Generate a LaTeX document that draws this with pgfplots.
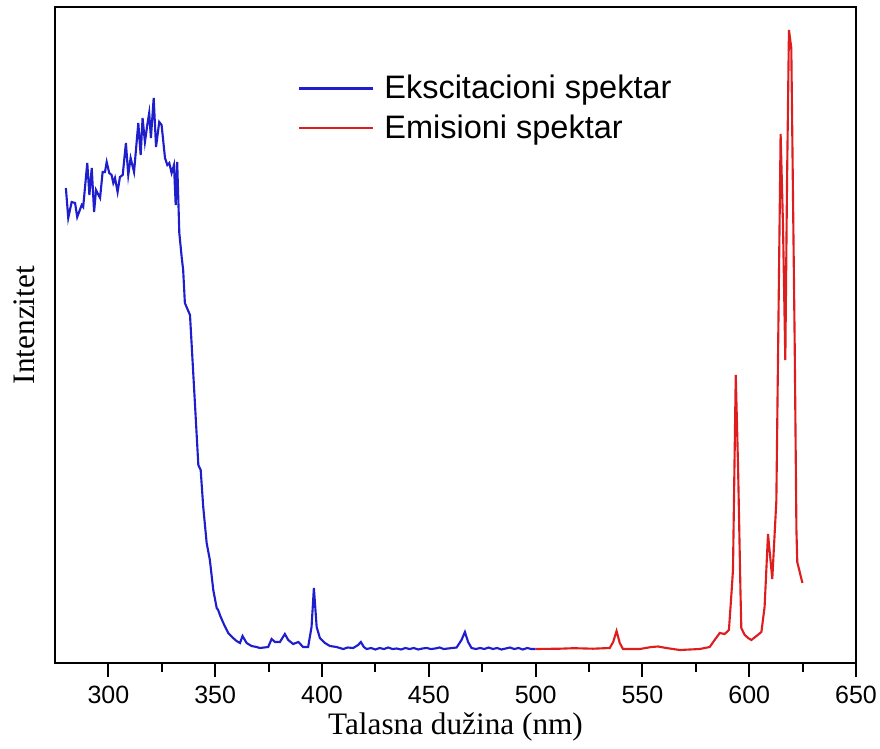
\documentclass[border=0pt]{standalone}
\usepackage{pgfplots}
\pgfplotsset{compat=1.18}
\usepackage{fontspec}
\setmainfont{Liberation Sans}
\newfontfamily\timesfont{Liberation Serif}
\definecolor{excit}{RGB}{30,30,205}
\definecolor{emis}{RGB}{222,30,30}

\begin{document}
\begin{tikzpicture}
  \begin{axis}[
      at={(0,0)}, anchor=south west,
      scale only axis,
      width=320.4pt, height=262.4pt,
      xmin=275, xmax=650, ymin=0, ymax=656,
      xtick={300,350,...,650},
      minor x tick num=1,
      ytick=\empty,
      xtick pos=left,
      xtick align=outside,
      major tick length=5.6pt,
      minor tick length=3.6pt,
      every tick/.style={black, line width=0.8pt},
      axis line style={line width=1pt},
      /pgf/number format/assume math mode=true,
      ticklabel style={font=\fontsize{10}{12}\selectfont},
      xlabel={Talasna dužina (nm)},
      ylabel={Intenzitet},
      xlabel style={font=\timesfont\fontsize{12.5}{14}\selectfont,
        at={(axis description cs:0.5,-0.0976)}, anchor=center},
      ylabel style={font=\timesfont\fontsize{12.5}{14}\selectfont,
        at={(axis description cs:-0.0387,0.515)}, anchor=center},
      legend style={draw=none, fill=none,
        at={(axis description cs:0.303,0.905)}, anchor=north west,
        font=\fontsize{13}{15}\selectfont,
        row sep=1pt, inner sep=0pt,
        nodes={inner xsep=4pt}},
      legend cell align=left,
      legend image code/.code={\draw[#1] (0pt,0pt) -- (29.6pt,0pt);},
    ]
    \addplot[excit, line width=0.85pt] coordinates {
      (280.1,475) (281.2,445) (282.8,461) (284.4,460) (285.4,446)
      (287.5,458) (288.2,456) (290.1,500) (291.1,468) (292.2,495)
      (293.3,451) (294.2,473) (296.1,465) (297.3,491) (298.4,491)
      (299.2,501) (300.4,490) (301.5,488) (302.3,480) (303.1,485)
      (304.3,471) (305.4,486) (306.7,488) (308.2,520) (309.3,488)
      (310.4,505) (312.0,491) (314.0,540) (315.1,508) (316.0,545)
      (317.1,521) (318.2,538) (319.1,550) (319.9,525) (321.2,565)
      (322.3,516) (323.8,541) (324.9,538) (326.5,505) (327.6,498)
      (328.5,500) (329.6,490) (330.7,498) (331.5,458) (332.2,501)
      (333.2,430) (334.3,406) (335.0,393) (335.8,360) (338.2,348)
      (340.5,260) (342.1,198) (343.2,193) (344.4,156) (346.0,120)
      (347.5,103) (349.1,73) (350.7,55) (351.4,53) (352.2,48)
      (353.8,40) (356.1,30) (358.4,25) (360.0,22) (361.6,20)
      (362.8,27) (364.7,20) (367.0,17) (369.4,16) (370.9,15)
      (374.8,16) (376.4,24) (378.0,21) (380.3,21) (382.6,29)
      (384.2,23) (386.5,19) (388.9,21) (391.2,16) (393.5,16)
      (395.1,36) (396.2,75) (397.5,36) (399.0,25) (401.4,20)
      (403.7,17) (406.8,16) (409.9,14) (412.0,15.5) (414.6,15)
      (416.9,18) (418.2,21) (419.6,16) (420.9,14) (423,15)
      (425,13.5) (427,15) (429,14) (431,15.5) (433,14)
      (435,14.5) (437,13.5) (439,15) (441,14) (443,15)
      (445,13.5) (447,14.5) (449,15) (451,14) (453,14.5)
      (455,15.5) (457,14) (459,14.5) (461,15) (463.0,15.5)
      (465.3,23) (466.9,31) (468.4,21) (470.0,15) (472,14)
      (474,15) (476,14) (478,15.5) (480,14) (482,15)
      (484,13.5) (486,14.5) (488,15.5) (490,14) (492,15)
      (494,13.5) (496,15) (498,14) (500,14)
    };
    \addlegendentry{Ekscitacioni spektar}
    \addplot[emis, line width=0.85pt] coordinates {
      (500,14) (511.3,14.3) (518,14.8) (526.9,14.3) (534.7,15)
      (536.3,21) (537.9,32) (539.4,20) (540.9,14) (548.8,14)
      (554.2,16) (557.3,16.5) (561.2,15) (567.5,13) (576.8,14)
      (581.5,16) (583.8,23) (586.2,30) (588.5,29) (590.5,33)
      (591.7,70) (592.4,93) (593.7,288) (594.8,194) (595.9,72)
      (596.3,35) (597.9,28) (599.5,25) (601.0,23) (603.4,27)
      (605.7,31) (607.2,56) (608.8,129) (610.8,84) (612.7,162)
      (614.7,529) (615.8,439) (616.9,303) (617.7,480) (618.6,633)
      (619.7,615) (621.3,317) (622.1,133) (622.5,101) (624.9,80)
    };
    \addlegendentry{Emisioni spektar}
  \end{axis}
  \pgfresetboundingbox
  \useasboundingbox (-22pt,-34pt) rectangle (330pt,265.2pt);
\end{tikzpicture}
\end{document}
